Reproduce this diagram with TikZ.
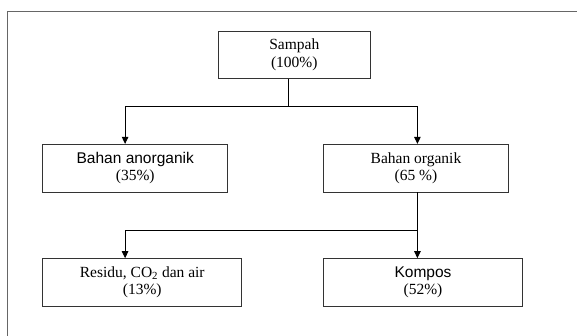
\documentclass[tikz,border=0pt]{standalone}
\usepackage{fontspec}
\setmainfont{Liberation Serif}
\newfontfamily\arialfont{Liberation Sans}
\usetikzlibrary{arrows.meta}
\tikzset{
  box/.style={draw=black!80, line width=0.9pt, rectangle, inner sep=0pt, align=center,
    font=\fontsize{15.5}{17.5}\selectfont},
  conn/.style={draw=black, line width=0.9pt},
  arr/.style={conn, -{Triangle[length=7pt,width=6.5pt]}},
  frame/.style={draw=black!60, line width=0.9pt}
}
\begin{document}
\begin{tikzpicture}[x=1pt,y=-1pt]
\useasboundingbox (0,0) rectangle (577,336);
\coordinate (fc) at (7.4,11.7);
\coordinate (fr) at (577,11.7);
\coordinate (fb) at (7.4,336);
\draw[frame] (fb) -- (fc) -- (fr);

\node[box, minimum width=152pt, minimum height=47.7pt] (sampah) at (294.3,55) {Sampah\\(100\%)};
\node[box, minimum width=185pt, minimum height=47.7pt] (anorg) at (135.25,168.2) {{\arialfont Bahan anorganik}\\(35\%)};
\node[box, minimum width=185pt, minimum height=47.7pt] (org) at (416,168.2) {Bahan organik\\(65 \%)};
\node[box, minimum width=199pt, minimum height=47.3pt] (residu) at (142.25,282.3) {Residu, CO\textsubscript{2} dan air\\(13\%)};
\node[box, minimum width=199pt, minimum height=47.3pt] (kompos) at (423,282.3) {{\arialfont Kompos}\\(52\%)};

\coordinate (j1) at (288.5,106.7);
\coordinate (l1) at (125.1,106.7);
\coordinate (r1) at (417.4,106.7);
\coordinate (j2) at (417.4,230);
\coordinate (l2) at (125.1,230);

\draw[conn] (j1 |- sampah.south) -- (j1);
\draw[arr] (j1) -- (l1) -- (l1 |- anorg.north);
\draw[arr] (j1) -- (r1) -- (r1 |- org.north);
\draw[arr] (j2 |- org.south) -- (j2 |- kompos.north);
\draw[arr] (j2) -- (l2) -- (l2 |- residu.north);
\end{tikzpicture}
\end{document}
